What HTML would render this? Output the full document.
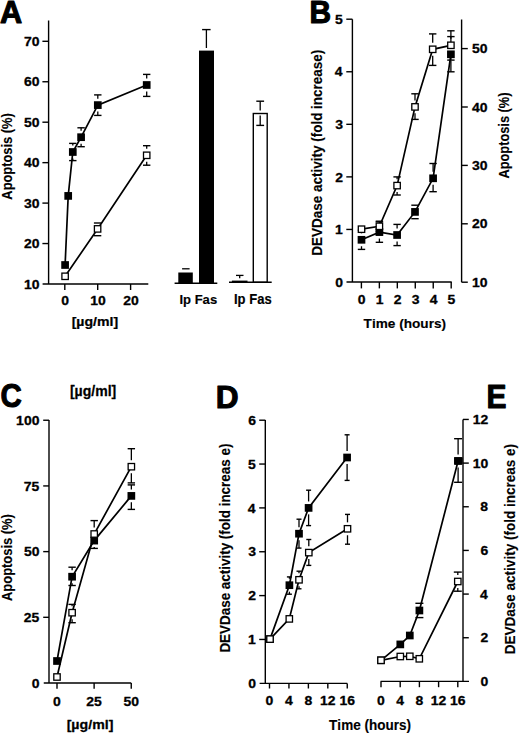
<!DOCTYPE html>
<html><head><meta charset="utf-8"><style>
html,body{margin:0;padding:0;background:#fff;}
body{width:520px;height:735px;overflow:hidden;}
svg{display:block;}
text{font-family:"Liberation Sans",sans-serif;font-weight:bold;font-kerning:none;fill:#000;}
</style></head><body>
<svg width="520" height="735" viewBox="0 0 520 735">
<rect width="520" height="735" fill="#fff"/>
<g stroke="#000" stroke-linecap="butt" fill="none">
</g>
<g stroke="#000" fill="#000">
<text transform="translate(0.09,23.45) scale(0.9871,1)" font-size="31.11" stroke="#000" stroke-width="1.1" stroke-linejoin="round">A</text>
<line x1="48.60" y1="20.60" x2="48.60" y2="284.00" stroke-width="1.4"/>
<line x1="42.60" y1="284.00" x2="148.30" y2="284.00" stroke-width="1.4"/>
<line x1="42.40" y1="243.55" x2="48.60" y2="243.55" stroke-width="1.4"/>
<line x1="42.40" y1="203.10" x2="48.60" y2="203.10" stroke-width="1.4"/>
<line x1="42.40" y1="162.65" x2="48.60" y2="162.65" stroke-width="1.4"/>
<line x1="42.40" y1="122.20" x2="48.60" y2="122.20" stroke-width="1.4"/>
<line x1="42.40" y1="81.75" x2="48.60" y2="81.75" stroke-width="1.4"/>
<line x1="42.40" y1="41.30" x2="48.60" y2="41.30" stroke-width="1.4"/>
<text transform="translate(23.89,288.65) scale(1.03,1)" font-size="13.56" stroke="#000" stroke-width="0.3" stroke-linejoin="round">10</text>
<text transform="translate(23.89,248.20) scale(1.03,1)" font-size="13.56" stroke="#000" stroke-width="0.3" stroke-linejoin="round">20</text>
<text transform="translate(23.89,207.75) scale(1.03,1)" font-size="13.56" stroke="#000" stroke-width="0.3" stroke-linejoin="round">30</text>
<text transform="translate(23.89,167.30) scale(1.03,1)" font-size="13.56" stroke="#000" stroke-width="0.3" stroke-linejoin="round">40</text>
<text transform="translate(23.89,126.85) scale(1.03,1)" font-size="13.56" stroke="#000" stroke-width="0.3" stroke-linejoin="round">50</text>
<text transform="translate(23.89,86.40) scale(1.03,1)" font-size="13.56" stroke="#000" stroke-width="0.3" stroke-linejoin="round">60</text>
<text transform="translate(23.89,45.95) scale(1.03,1)" font-size="13.56" stroke="#000" stroke-width="0.3" stroke-linejoin="round">70</text>
<line x1="64.80" y1="284.00" x2="64.80" y2="290.00" stroke-width="1.4"/>
<text transform="translate(61.32,305.12) scale(1.03,1)" font-size="13.56" stroke="#000" stroke-width="0.3" stroke-linejoin="round">0</text>
<line x1="97.70" y1="284.00" x2="97.70" y2="290.00" stroke-width="1.4"/>
<text transform="translate(90.33,305.12) scale(1.03,1)" font-size="13.56" stroke="#000" stroke-width="0.3" stroke-linejoin="round">10</text>
<line x1="130.60" y1="284.00" x2="130.60" y2="290.00" stroke-width="1.4"/>
<text transform="translate(123.23,305.12) scale(1.03,1)" font-size="13.56" stroke="#000" stroke-width="0.3" stroke-linejoin="round">20</text>
<text transform="translate(71.63,326.29) scale(1.0365,1)" font-size="13.61" stroke="#000" stroke-width="0.25" stroke-linejoin="round">[µg/ml]</text>
<text transform="translate(11.53,199.65) rotate(-90) scale(0.8990,1)" font-size="14.32" stroke="#000" stroke-width="0.15" stroke-linejoin="round">Apoptosis (%)</text>
<polyline points="65.10,276.30 97.60,228.90 146.70,155.30" fill="none" stroke-width="1.7"/>
<polyline points="65.10,265.00 68.20,195.90 72.80,152.00 81.10,137.20 97.80,105.10 146.70,85.00" fill="none" stroke-width="1.7"/>
<line x1="93.90" y1="223.00" x2="101.30" y2="223.00" stroke-width="1.4"/>
<line x1="93.90" y1="235.70" x2="101.30" y2="235.70" stroke-width="1.4"/>
<line x1="97.60" y1="235.35" x2="97.60" y2="235.70" stroke-width="1.3"/>
<line x1="143.00" y1="145.70" x2="150.40" y2="145.70" stroke-width="1.4"/>
<line x1="146.70" y1="145.70" x2="146.70" y2="148.85" stroke-width="1.3"/>
<line x1="143.00" y1="165.20" x2="150.40" y2="165.20" stroke-width="1.4"/>
<line x1="146.70" y1="161.75" x2="146.70" y2="165.20" stroke-width="1.3"/>
<line x1="69.10" y1="143.40" x2="76.50" y2="143.40" stroke-width="1.4"/>
<line x1="72.80" y1="143.40" x2="72.80" y2="145.55" stroke-width="1.3"/>
<line x1="69.10" y1="160.60" x2="76.50" y2="160.60" stroke-width="1.4"/>
<line x1="72.80" y1="158.45" x2="72.80" y2="160.60" stroke-width="1.3"/>
<line x1="77.40" y1="127.80" x2="84.80" y2="127.80" stroke-width="1.4"/>
<line x1="81.10" y1="127.80" x2="81.10" y2="130.75" stroke-width="1.3"/>
<line x1="77.40" y1="146.70" x2="84.80" y2="146.70" stroke-width="1.4"/>
<line x1="81.10" y1="143.65" x2="81.10" y2="146.70" stroke-width="1.3"/>
<line x1="94.10" y1="94.90" x2="101.50" y2="94.90" stroke-width="1.4"/>
<line x1="97.80" y1="94.90" x2="97.80" y2="98.65" stroke-width="1.3"/>
<line x1="94.10" y1="115.40" x2="101.50" y2="115.40" stroke-width="1.4"/>
<line x1="97.80" y1="111.55" x2="97.80" y2="115.40" stroke-width="1.3"/>
<line x1="143.00" y1="74.40" x2="150.40" y2="74.40" stroke-width="1.4"/>
<line x1="146.70" y1="74.40" x2="146.70" y2="78.55" stroke-width="1.3"/>
<line x1="143.00" y1="96.40" x2="150.40" y2="96.40" stroke-width="1.4"/>
<line x1="146.70" y1="91.45" x2="146.70" y2="96.40" stroke-width="1.3"/>
<rect x="61.25" y="261.15" width="7.7" height="7.7" fill="#000" stroke="none"/>
<rect x="64.35" y="192.05" width="7.7" height="7.7" fill="#000" stroke="none"/>
<rect x="68.95" y="148.15" width="7.7" height="7.7" fill="#000" stroke="none"/>
<rect x="77.25" y="133.35" width="7.7" height="7.7" fill="#000" stroke="none"/>
<rect x="93.95" y="101.25" width="7.7" height="7.7" fill="#000" stroke="none"/>
<rect x="142.85" y="81.15" width="7.7" height="7.7" fill="#000" stroke="none"/>
<rect x="61.90" y="273.10" width="6.40" height="6.40" fill="#fff" stroke-width="1.3"/>
<rect x="94.40" y="225.70" width="6.40" height="6.40" fill="#fff" stroke-width="1.3"/>
<rect x="143.50" y="152.10" width="6.40" height="6.40" fill="#fff" stroke-width="1.3"/>
<line x1="174.60" y1="283.20" x2="217.30" y2="283.20" stroke-width="1.5"/>
<rect x="178.3" y="272.5" width="14.5" height="10.7" fill="#000" stroke="none"/>
<line x1="182.10" y1="268.80" x2="189.60" y2="268.80" stroke-width="1.3"/>
<rect x="199.0" y="50.6" width="15.0" height="232.6" fill="#000" stroke="none"/>
<line x1="206.40" y1="29.60" x2="206.40" y2="48.00" stroke-width="1.3"/>
<line x1="202.10" y1="29.60" x2="210.60" y2="29.60" stroke-width="1.4"/>
<text transform="translate(179.40,304.12) scale(0.9719,1)" font-size="13.44" stroke="#000" stroke-width="0.15" stroke-linejoin="round">Ip Fas</text>
<line x1="229.00" y1="282.30" x2="271.70" y2="282.30" stroke-width="1.5"/>
<rect x="231.9" y="280.6" width="15.6" height="2.0" fill="#000" stroke="none"/>
<line x1="239.70" y1="275.40" x2="239.70" y2="278.20" stroke-width="1.3"/>
<line x1="236.00" y1="275.40" x2="243.50" y2="275.40" stroke-width="1.3"/>
<rect x="253.3" y="113.5" width="13.9" height="168.8" fill="none" stroke-width="1.4"/>
<line x1="260.20" y1="101.20" x2="260.20" y2="110.60" stroke-width="1.3"/>
<line x1="260.20" y1="115.60" x2="260.20" y2="125.40" stroke-width="1.3"/>
<line x1="256.30" y1="101.20" x2="264.10" y2="101.20" stroke-width="1.4"/>
<line x1="256.30" y1="125.40" x2="264.10" y2="125.40" stroke-width="1.4"/>
<text transform="translate(234.00,303.93) scale(0.9487,1)" font-size="13.74" stroke="#000" stroke-width="0.15" stroke-linejoin="round">Ip Fas</text>
<text transform="translate(309.55,23.45) scale(0.9594,1)" font-size="31.11" stroke="#000" stroke-width="1.1" stroke-linejoin="round">B</text>
<line x1="352.40" y1="19.20" x2="352.40" y2="282.00" stroke-width="1.4"/>
<line x1="346.50" y1="282.00" x2="451.70" y2="282.00" stroke-width="1.4"/>
<line x1="346.30" y1="229.44" x2="352.40" y2="229.44" stroke-width="1.4"/>
<line x1="346.30" y1="176.88" x2="352.40" y2="176.88" stroke-width="1.4"/>
<line x1="346.30" y1="124.32" x2="352.40" y2="124.32" stroke-width="1.4"/>
<line x1="346.30" y1="71.76" x2="352.40" y2="71.76" stroke-width="1.4"/>
<line x1="346.30" y1="19.20" x2="352.40" y2="19.20" stroke-width="1.4"/>
<text transform="translate(335.26,286.65) scale(1.03,1)" font-size="13.56" stroke="#000" stroke-width="0.3" stroke-linejoin="round">0</text>
<text transform="translate(335.07,234.09) scale(1.03,1)" font-size="13.56" stroke="#000" stroke-width="0.3" stroke-linejoin="round">1</text>
<text transform="translate(335.24,181.53) scale(1.03,1)" font-size="13.56" stroke="#000" stroke-width="0.3" stroke-linejoin="round">2</text>
<text transform="translate(335.19,128.97) scale(1.03,1)" font-size="13.56" stroke="#000" stroke-width="0.3" stroke-linejoin="round">3</text>
<text transform="translate(334.76,76.41) scale(1.03,1)" font-size="13.56" stroke="#000" stroke-width="0.3" stroke-linejoin="round">4</text>
<text transform="translate(335.07,23.85) scale(1.03,1)" font-size="13.56" stroke="#000" stroke-width="0.3" stroke-linejoin="round">5</text>
<line x1="361.40" y1="282.00" x2="361.40" y2="288.40" stroke-width="1.4"/>
<text transform="translate(357.82,303.62) scale(1.03,1)" font-size="13.56" stroke="#000" stroke-width="0.3" stroke-linejoin="round">0</text>
<line x1="379.36" y1="282.00" x2="379.36" y2="288.40" stroke-width="1.4"/>
<text transform="translate(375.78,303.62) scale(1.03,1)" font-size="13.56" stroke="#000" stroke-width="0.3" stroke-linejoin="round">1</text>
<line x1="397.32" y1="282.00" x2="397.32" y2="288.40" stroke-width="1.4"/>
<text transform="translate(393.74,303.62) scale(1.03,1)" font-size="13.56" stroke="#000" stroke-width="0.3" stroke-linejoin="round">2</text>
<line x1="415.28" y1="282.00" x2="415.28" y2="288.40" stroke-width="1.4"/>
<text transform="translate(411.70,303.62) scale(1.03,1)" font-size="13.56" stroke="#000" stroke-width="0.3" stroke-linejoin="round">3</text>
<line x1="433.24" y1="282.00" x2="433.24" y2="288.40" stroke-width="1.4"/>
<text transform="translate(429.66,303.62) scale(1.03,1)" font-size="13.56" stroke="#000" stroke-width="0.3" stroke-linejoin="round">4</text>
<line x1="451.20" y1="282.00" x2="451.20" y2="288.40" stroke-width="1.4"/>
<text transform="translate(447.62,303.62) scale(1.03,1)" font-size="13.56" stroke="#000" stroke-width="0.3" stroke-linejoin="round">5</text>
<text transform="translate(363.62,328.32) scale(1.0022,1)" font-size="13.59" stroke="#000" stroke-width="0.15" stroke-linejoin="round">Time (hours)</text>
<line x1="461.60" y1="19.50" x2="461.60" y2="282.20" stroke-width="1.4"/>
<line x1="461.60" y1="282.20" x2="467.80" y2="282.20" stroke-width="1.4"/>
<text transform="translate(472.09,286.85) scale(1.03,1)" font-size="13.56" stroke="#000" stroke-width="0.3" stroke-linejoin="round">10</text>
<line x1="461.60" y1="223.80" x2="467.80" y2="223.80" stroke-width="1.4"/>
<text transform="translate(472.09,228.45) scale(1.03,1)" font-size="13.56" stroke="#000" stroke-width="0.3" stroke-linejoin="round">20</text>
<line x1="461.60" y1="165.40" x2="467.80" y2="165.40" stroke-width="1.4"/>
<text transform="translate(472.09,170.05) scale(1.03,1)" font-size="13.56" stroke="#000" stroke-width="0.3" stroke-linejoin="round">30</text>
<line x1="461.60" y1="107.00" x2="467.80" y2="107.00" stroke-width="1.4"/>
<text transform="translate(472.09,111.65) scale(1.03,1)" font-size="13.56" stroke="#000" stroke-width="0.3" stroke-linejoin="round">40</text>
<line x1="461.60" y1="48.60" x2="467.80" y2="48.60" stroke-width="1.4"/>
<text transform="translate(472.09,53.25) scale(1.03,1)" font-size="13.56" stroke="#000" stroke-width="0.3" stroke-linejoin="round">50</text>
<text transform="translate(509.43,178.54) rotate(-90) scale(0.8858,1)" font-size="14.46" stroke="#000" stroke-width="0.15" stroke-linejoin="round">Apoptosis (%)</text>
<text transform="translate(321.93,255.73) rotate(-90) scale(0.9146,1)" font-size="14.75" stroke="#000" stroke-width="0.15" stroke-linejoin="round">DEVDase activity (fold increase)</text>
<polyline points="361.50,229.20 379.40,226.30 397.10,185.60 415.00,106.90 432.70,49.30 450.90,45.30" fill="none" stroke-width="1.7"/>
<polyline points="361.50,239.80 379.40,232.10 397.10,235.00 415.00,211.90 433.10,178.30 450.90,54.30" fill="none" stroke-width="1.7"/>
<line x1="375.70" y1="221.20" x2="383.10" y2="221.20" stroke-width="1.4"/>
<line x1="375.70" y1="231.40" x2="383.10" y2="231.40" stroke-width="1.4"/>
<line x1="393.40" y1="176.90" x2="400.80" y2="176.90" stroke-width="1.4"/>
<line x1="397.10" y1="176.90" x2="397.10" y2="179.15" stroke-width="1.3"/>
<line x1="393.40" y1="195.00" x2="400.80" y2="195.00" stroke-width="1.4"/>
<line x1="397.10" y1="192.05" x2="397.10" y2="195.00" stroke-width="1.3"/>
<line x1="411.30" y1="93.80" x2="418.70" y2="93.80" stroke-width="1.4"/>
<line x1="415.00" y1="93.80" x2="415.00" y2="100.45" stroke-width="1.3"/>
<line x1="411.30" y1="119.40" x2="418.70" y2="119.40" stroke-width="1.4"/>
<line x1="415.00" y1="113.35" x2="415.00" y2="119.40" stroke-width="1.3"/>
<line x1="429.00" y1="33.90" x2="436.40" y2="33.90" stroke-width="1.4"/>
<line x1="432.70" y1="33.90" x2="432.70" y2="42.85" stroke-width="1.3"/>
<line x1="429.00" y1="65.40" x2="436.40" y2="65.40" stroke-width="1.4"/>
<line x1="432.70" y1="55.75" x2="432.70" y2="65.40" stroke-width="1.3"/>
<line x1="447.20" y1="30.80" x2="454.60" y2="30.80" stroke-width="1.4"/>
<line x1="450.90" y1="30.80" x2="450.90" y2="38.85" stroke-width="1.3"/>
<line x1="447.20" y1="60.10" x2="454.60" y2="60.10" stroke-width="1.4"/>
<line x1="450.90" y1="51.75" x2="450.90" y2="60.10" stroke-width="1.3"/>
<line x1="357.80" y1="230.20" x2="365.20" y2="230.20" stroke-width="1.4"/>
<line x1="361.50" y1="230.20" x2="361.50" y2="233.35" stroke-width="1.3"/>
<line x1="357.80" y1="249.40" x2="365.20" y2="249.40" stroke-width="1.4"/>
<line x1="361.50" y1="246.25" x2="361.50" y2="249.40" stroke-width="1.3"/>
<line x1="375.70" y1="221.90" x2="383.10" y2="221.90" stroke-width="1.4"/>
<line x1="379.40" y1="221.90" x2="379.40" y2="225.65" stroke-width="1.3"/>
<line x1="375.70" y1="242.30" x2="383.10" y2="242.30" stroke-width="1.4"/>
<line x1="379.40" y1="238.55" x2="379.40" y2="242.30" stroke-width="1.3"/>
<line x1="393.40" y1="224.40" x2="400.80" y2="224.40" stroke-width="1.4"/>
<line x1="397.10" y1="224.40" x2="397.10" y2="228.55" stroke-width="1.3"/>
<line x1="393.40" y1="245.60" x2="400.80" y2="245.60" stroke-width="1.4"/>
<line x1="397.10" y1="241.45" x2="397.10" y2="245.60" stroke-width="1.3"/>
<line x1="411.30" y1="205.20" x2="418.70" y2="205.20" stroke-width="1.4"/>
<line x1="415.00" y1="205.20" x2="415.00" y2="205.45" stroke-width="1.3"/>
<line x1="411.30" y1="218.70" x2="418.70" y2="218.70" stroke-width="1.4"/>
<line x1="415.00" y1="218.35" x2="415.00" y2="218.70" stroke-width="1.3"/>
<line x1="429.40" y1="163.50" x2="436.80" y2="163.50" stroke-width="1.4"/>
<line x1="433.10" y1="163.50" x2="433.10" y2="171.85" stroke-width="1.3"/>
<line x1="429.40" y1="191.70" x2="436.80" y2="191.70" stroke-width="1.4"/>
<line x1="433.10" y1="184.75" x2="433.10" y2="191.70" stroke-width="1.3"/>
<line x1="447.20" y1="36.60" x2="454.60" y2="36.60" stroke-width="1.4"/>
<line x1="450.90" y1="36.60" x2="450.90" y2="47.85" stroke-width="1.3"/>
<line x1="447.20" y1="71.80" x2="454.60" y2="71.80" stroke-width="1.4"/>
<line x1="450.90" y1="60.75" x2="450.90" y2="71.80" stroke-width="1.3"/>
<rect x="357.65" y="235.95" width="7.7" height="7.7" fill="#000" stroke="none"/>
<rect x="375.55" y="228.25" width="7.7" height="7.7" fill="#000" stroke="none"/>
<rect x="393.25" y="231.15" width="7.7" height="7.7" fill="#000" stroke="none"/>
<rect x="411.15" y="208.05" width="7.7" height="7.7" fill="#000" stroke="none"/>
<rect x="429.25" y="174.45" width="7.7" height="7.7" fill="#000" stroke="none"/>
<rect x="447.05" y="50.45" width="7.7" height="7.7" fill="#000" stroke="none"/>
<rect x="358.30" y="226.00" width="6.40" height="6.40" fill="#fff" stroke-width="1.3"/>
<rect x="376.20" y="223.10" width="6.40" height="6.40" fill="#fff" stroke-width="1.3"/>
<rect x="393.90" y="182.40" width="6.40" height="6.40" fill="#fff" stroke-width="1.3"/>
<rect x="411.80" y="103.70" width="6.40" height="6.40" fill="#fff" stroke-width="1.3"/>
<rect x="429.50" y="46.10" width="6.40" height="6.40" fill="#fff" stroke-width="1.3"/>
<rect x="447.70" y="42.10" width="6.40" height="6.40" fill="#fff" stroke-width="1.3"/>
<text transform="translate(0.44,406.82) scale(0.8781,1)" font-size="33.62" stroke="#000" stroke-width="1.1" stroke-linejoin="round">C</text>
<text transform="translate(69.93,395.94) scale(1.0182,1)" font-size="13.83" stroke="#000" stroke-width="0.25" stroke-linejoin="round">[µg/ml]</text>
<line x1="49.00" y1="420.10" x2="49.00" y2="683.00" stroke-width="1.4"/>
<line x1="43.75" y1="683.00" x2="131.25" y2="683.00" stroke-width="1.4"/>
<line x1="43.20" y1="617.31" x2="49.00" y2="617.31" stroke-width="1.4"/>
<line x1="43.20" y1="551.62" x2="49.00" y2="551.62" stroke-width="1.4"/>
<line x1="43.20" y1="485.93" x2="49.00" y2="485.93" stroke-width="1.4"/>
<line x1="43.20" y1="420.24" x2="49.00" y2="420.24" stroke-width="1.4"/>
<text transform="translate(31.66,687.65) scale(1.03,1)" font-size="13.56" stroke="#000" stroke-width="0.3" stroke-linejoin="round">0</text>
<text transform="translate(23.70,621.96) scale(1.03,1)" font-size="13.56" stroke="#000" stroke-width="0.3" stroke-linejoin="round">25</text>
<text transform="translate(23.89,556.27) scale(1.03,1)" font-size="13.56" stroke="#000" stroke-width="0.3" stroke-linejoin="round">50</text>
<text transform="translate(23.70,490.58) scale(1.03,1)" font-size="13.56" stroke="#000" stroke-width="0.3" stroke-linejoin="round">75</text>
<text transform="translate(16.12,424.89) scale(1.03,1)" font-size="13.56" stroke="#000" stroke-width="0.3" stroke-linejoin="round">100</text>
<line x1="57.00" y1="683.00" x2="57.00" y2="688.75" stroke-width="1.4"/>
<text transform="translate(53.12,705.62) scale(1.03,1)" font-size="13.56" stroke="#000" stroke-width="0.3" stroke-linejoin="round">0</text>
<line x1="94.12" y1="683.00" x2="94.12" y2="688.75" stroke-width="1.4"/>
<text transform="translate(86.36,705.62) scale(1.03,1)" font-size="13.56" stroke="#000" stroke-width="0.3" stroke-linejoin="round">25</text>
<line x1="131.25" y1="683.00" x2="131.25" y2="688.75" stroke-width="1.4"/>
<text transform="translate(123.48,705.62) scale(1.03,1)" font-size="13.56" stroke="#000" stroke-width="0.3" stroke-linejoin="round">50</text>
<text transform="translate(66.63,729.36) scale(1.0685,1)" font-size="13.29" stroke="#000" stroke-width="0.25" stroke-linejoin="round">[µg/ml]</text>
<text transform="translate(12.03,600.95) rotate(-90) scale(0.9114,1)" font-size="14.17" stroke="#000" stroke-width="0.15" stroke-linejoin="round">Apoptosis (%)</text>
<polyline points="57.00,677.00 72.10,612.70 94.20,534.00 131.35,466.70" fill="none" stroke-width="1.7"/>
<polyline points="57.00,661.00 72.10,576.70 94.20,540.60 131.35,495.90" fill="none" stroke-width="1.7"/>
<line x1="68.40" y1="604.40" x2="75.80" y2="604.40" stroke-width="1.4"/>
<line x1="72.10" y1="604.40" x2="72.10" y2="606.25" stroke-width="1.3"/>
<line x1="68.40" y1="622.70" x2="75.80" y2="622.70" stroke-width="1.4"/>
<line x1="72.10" y1="619.15" x2="72.10" y2="622.70" stroke-width="1.3"/>
<line x1="90.50" y1="520.60" x2="97.90" y2="520.60" stroke-width="1.4"/>
<line x1="94.20" y1="520.60" x2="94.20" y2="527.55" stroke-width="1.3"/>
<line x1="127.65" y1="448.70" x2="135.05" y2="448.70" stroke-width="1.4"/>
<line x1="131.35" y1="448.70" x2="131.35" y2="460.25" stroke-width="1.3"/>
<line x1="127.65" y1="482.90" x2="135.05" y2="482.90" stroke-width="1.4"/>
<line x1="131.35" y1="473.15" x2="131.35" y2="482.90" stroke-width="1.3"/>
<line x1="68.40" y1="567.20" x2="75.80" y2="567.20" stroke-width="1.4"/>
<line x1="72.10" y1="567.20" x2="72.10" y2="570.25" stroke-width="1.3"/>
<line x1="68.40" y1="585.50" x2="75.80" y2="585.50" stroke-width="1.4"/>
<line x1="72.10" y1="583.15" x2="72.10" y2="585.50" stroke-width="1.3"/>
<line x1="90.50" y1="548.40" x2="97.90" y2="548.40" stroke-width="1.4"/>
<line x1="94.20" y1="547.05" x2="94.20" y2="548.40" stroke-width="1.3"/>
<line x1="127.65" y1="484.90" x2="135.05" y2="484.90" stroke-width="1.4"/>
<line x1="131.35" y1="484.90" x2="131.35" y2="489.45" stroke-width="1.3"/>
<line x1="127.65" y1="509.40" x2="135.05" y2="509.40" stroke-width="1.4"/>
<line x1="131.35" y1="502.35" x2="131.35" y2="509.40" stroke-width="1.3"/>
<rect x="53.15" y="657.15" width="7.7" height="7.7" fill="#000" stroke="none"/>
<rect x="68.25" y="572.85" width="7.7" height="7.7" fill="#000" stroke="none"/>
<rect x="90.35" y="536.75" width="7.7" height="7.7" fill="#000" stroke="none"/>
<rect x="127.50" y="492.05" width="7.7" height="7.7" fill="#000" stroke="none"/>
<rect x="53.80" y="673.80" width="6.40" height="6.40" fill="#fff" stroke-width="1.3"/>
<rect x="68.90" y="609.50" width="6.40" height="6.40" fill="#fff" stroke-width="1.3"/>
<rect x="91.00" y="530.80" width="6.40" height="6.40" fill="#fff" stroke-width="1.3"/>
<rect x="128.15" y="463.50" width="6.40" height="6.40" fill="#fff" stroke-width="1.3"/>
<text transform="translate(215.63,407.65) scale(0.9803,1)" font-size="32.27" stroke="#000" stroke-width="1.1" stroke-linejoin="round">D</text>
<line x1="265.30" y1="420.00" x2="265.30" y2="683.40" stroke-width="1.4"/>
<line x1="259.60" y1="683.40" x2="347.30" y2="683.40" stroke-width="1.4"/>
<line x1="259.20" y1="639.45" x2="265.30" y2="639.45" stroke-width="1.4"/>
<line x1="259.20" y1="595.60" x2="265.30" y2="595.60" stroke-width="1.4"/>
<line x1="259.20" y1="551.75" x2="265.30" y2="551.75" stroke-width="1.4"/>
<line x1="259.20" y1="507.90" x2="265.30" y2="507.90" stroke-width="1.4"/>
<line x1="259.20" y1="464.05" x2="265.30" y2="464.05" stroke-width="1.4"/>
<line x1="259.20" y1="420.20" x2="265.30" y2="420.20" stroke-width="1.4"/>
<text transform="translate(248.26,687.95) scale(1.03,1)" font-size="13.56" stroke="#000" stroke-width="0.3" stroke-linejoin="round">0</text>
<text transform="translate(248.07,644.10) scale(1.03,1)" font-size="13.56" stroke="#000" stroke-width="0.3" stroke-linejoin="round">1</text>
<text transform="translate(248.24,600.25) scale(1.03,1)" font-size="13.56" stroke="#000" stroke-width="0.3" stroke-linejoin="round">2</text>
<text transform="translate(248.19,556.40) scale(1.03,1)" font-size="13.56" stroke="#000" stroke-width="0.3" stroke-linejoin="round">3</text>
<text transform="translate(247.76,512.55) scale(1.03,1)" font-size="13.56" stroke="#000" stroke-width="0.3" stroke-linejoin="round">4</text>
<text transform="translate(248.07,468.70) scale(1.03,1)" font-size="13.56" stroke="#000" stroke-width="0.3" stroke-linejoin="round">5</text>
<text transform="translate(248.19,424.85) scale(1.03,1)" font-size="13.56" stroke="#000" stroke-width="0.3" stroke-linejoin="round">6</text>
<line x1="269.50" y1="683.40" x2="269.50" y2="688.50" stroke-width="1.4"/>
<text transform="translate(265.62,705.22) scale(1.03,1)" font-size="13.56" stroke="#000" stroke-width="0.3" stroke-linejoin="round">0</text>
<line x1="288.94" y1="683.40" x2="288.94" y2="688.50" stroke-width="1.4"/>
<text transform="translate(285.06,705.22) scale(1.03,1)" font-size="13.56" stroke="#000" stroke-width="0.3" stroke-linejoin="round">4</text>
<line x1="308.38" y1="683.40" x2="308.38" y2="688.50" stroke-width="1.4"/>
<text transform="translate(304.50,705.22) scale(1.03,1)" font-size="13.56" stroke="#000" stroke-width="0.3" stroke-linejoin="round">8</text>
<line x1="327.82" y1="683.40" x2="327.82" y2="688.50" stroke-width="1.4"/>
<text transform="translate(320.05,705.22) scale(1.03,1)" font-size="13.56" stroke="#000" stroke-width="0.3" stroke-linejoin="round">12</text>
<line x1="347.26" y1="683.40" x2="347.26" y2="688.50" stroke-width="1.4"/>
<text transform="translate(339.49,705.22) scale(1.03,1)" font-size="13.56" stroke="#000" stroke-width="0.3" stroke-linejoin="round">16</text>
<text transform="translate(329.12,729.52) scale(0.9256,1)" font-size="14.61" stroke="#000" stroke-width="0.15" stroke-linejoin="round">Time (hours)</text>
<text transform="translate(230.43,652.62) rotate(-90) scale(0.8941,1)" font-size="15.04" stroke="#000" stroke-width="0.15" stroke-linejoin="round">DEVDase activity (fold increas e)</text>
<polyline points="270.00,639.10 289.30,618.90 299.00,579.80 308.80,552.60 347.50,528.80" fill="none" stroke-width="1.7"/>
<polyline points="270.00,639.10 289.40,585.20 299.00,533.70 308.60,507.90 347.10,457.50" fill="none" stroke-width="1.7"/>
<line x1="296.50" y1="571.20" x2="301.50" y2="571.20" stroke-width="1.4"/>
<line x1="299.00" y1="571.20" x2="299.00" y2="573.35" stroke-width="1.3"/>
<line x1="296.50" y1="588.80" x2="301.50" y2="588.80" stroke-width="1.4"/>
<line x1="299.00" y1="586.25" x2="299.00" y2="588.80" stroke-width="1.3"/>
<line x1="306.30" y1="539.50" x2="311.30" y2="539.50" stroke-width="1.4"/>
<line x1="308.80" y1="539.50" x2="308.80" y2="546.15" stroke-width="1.3"/>
<line x1="306.30" y1="565.40" x2="311.30" y2="565.40" stroke-width="1.4"/>
<line x1="308.80" y1="559.05" x2="308.80" y2="565.40" stroke-width="1.3"/>
<line x1="345.00" y1="514.40" x2="350.00" y2="514.40" stroke-width="1.4"/>
<line x1="347.50" y1="514.40" x2="347.50" y2="522.35" stroke-width="1.3"/>
<line x1="345.00" y1="544.20" x2="350.00" y2="544.20" stroke-width="1.4"/>
<line x1="347.50" y1="535.25" x2="347.50" y2="544.20" stroke-width="1.3"/>
<line x1="286.90" y1="576.90" x2="291.90" y2="576.90" stroke-width="1.4"/>
<line x1="289.40" y1="576.90" x2="289.40" y2="578.75" stroke-width="1.3"/>
<line x1="286.90" y1="594.20" x2="291.90" y2="594.20" stroke-width="1.4"/>
<line x1="289.40" y1="591.65" x2="289.40" y2="594.20" stroke-width="1.3"/>
<line x1="296.50" y1="519.20" x2="301.50" y2="519.20" stroke-width="1.4"/>
<line x1="299.00" y1="519.20" x2="299.00" y2="527.25" stroke-width="1.3"/>
<line x1="296.50" y1="548.10" x2="301.50" y2="548.10" stroke-width="1.4"/>
<line x1="299.00" y1="540.15" x2="299.00" y2="548.10" stroke-width="1.3"/>
<line x1="306.10" y1="490.20" x2="311.10" y2="490.20" stroke-width="1.4"/>
<line x1="308.60" y1="490.20" x2="308.60" y2="501.45" stroke-width="1.3"/>
<line x1="306.10" y1="525.60" x2="311.10" y2="525.60" stroke-width="1.4"/>
<line x1="308.60" y1="514.35" x2="308.60" y2="525.60" stroke-width="1.3"/>
<line x1="344.60" y1="434.80" x2="349.60" y2="434.80" stroke-width="1.4"/>
<line x1="347.10" y1="434.80" x2="347.10" y2="451.05" stroke-width="1.3"/>
<line x1="344.60" y1="480.40" x2="349.60" y2="480.40" stroke-width="1.4"/>
<line x1="347.10" y1="463.95" x2="347.10" y2="480.40" stroke-width="1.3"/>
<rect x="266.15" y="635.25" width="7.7" height="7.7" fill="#000" stroke="none"/>
<rect x="285.55" y="581.35" width="7.7" height="7.7" fill="#000" stroke="none"/>
<rect x="295.15" y="529.85" width="7.7" height="7.7" fill="#000" stroke="none"/>
<rect x="304.75" y="504.05" width="7.7" height="7.7" fill="#000" stroke="none"/>
<rect x="343.25" y="453.65" width="7.7" height="7.7" fill="#000" stroke="none"/>
<rect x="266.80" y="635.90" width="6.40" height="6.40" fill="#fff" stroke-width="1.3"/>
<rect x="286.10" y="615.70" width="6.40" height="6.40" fill="#fff" stroke-width="1.3"/>
<rect x="295.80" y="576.60" width="6.40" height="6.40" fill="#fff" stroke-width="1.3"/>
<rect x="305.60" y="549.40" width="6.40" height="6.40" fill="#fff" stroke-width="1.3"/>
<rect x="344.30" y="525.60" width="6.40" height="6.40" fill="#fff" stroke-width="1.3"/>
<text transform="translate(486.55,407.85) scale(0.9036,1)" font-size="33.14" stroke="#000" stroke-width="1.1" stroke-linejoin="round">E</text>
<line x1="463.00" y1="419.40" x2="463.00" y2="681.40" stroke-width="1.4"/>
<line x1="380.60" y1="681.40" x2="469.00" y2="681.40" stroke-width="1.4"/>
<line x1="463.00" y1="637.74" x2="468.80" y2="637.74" stroke-width="1.4"/>
<line x1="463.00" y1="594.08" x2="468.80" y2="594.08" stroke-width="1.4"/>
<line x1="463.00" y1="550.42" x2="468.80" y2="550.42" stroke-width="1.4"/>
<line x1="463.00" y1="506.76" x2="468.80" y2="506.76" stroke-width="1.4"/>
<line x1="463.00" y1="463.10" x2="468.80" y2="463.10" stroke-width="1.4"/>
<line x1="463.00" y1="419.44" x2="468.80" y2="419.44" stroke-width="1.4"/>
<text transform="translate(480.46,686.05) scale(1.03,1)" font-size="13.56" stroke="#000" stroke-width="0.3" stroke-linejoin="round">0</text>
<text transform="translate(480.44,642.39) scale(1.03,1)" font-size="13.56" stroke="#000" stroke-width="0.3" stroke-linejoin="round">2</text>
<text transform="translate(479.96,598.73) scale(1.03,1)" font-size="13.56" stroke="#000" stroke-width="0.3" stroke-linejoin="round">4</text>
<text transform="translate(480.39,555.07) scale(1.03,1)" font-size="13.56" stroke="#000" stroke-width="0.3" stroke-linejoin="round">6</text>
<text transform="translate(480.31,511.41) scale(1.03,1)" font-size="13.56" stroke="#000" stroke-width="0.3" stroke-linejoin="round">8</text>
<text transform="translate(472.69,467.75) scale(1.03,1)" font-size="13.56" stroke="#000" stroke-width="0.3" stroke-linejoin="round">10</text>
<text transform="translate(472.67,424.09) scale(1.03,1)" font-size="13.56" stroke="#000" stroke-width="0.3" stroke-linejoin="round">12</text>
<line x1="381.00" y1="681.40" x2="381.00" y2="687.20" stroke-width="1.4"/>
<text transform="translate(377.12,704.62) scale(1.03,1)" font-size="13.56" stroke="#000" stroke-width="0.3" stroke-linejoin="round">0</text>
<line x1="400.20" y1="681.40" x2="400.20" y2="687.20" stroke-width="1.4"/>
<text transform="translate(396.32,704.62) scale(1.03,1)" font-size="13.56" stroke="#000" stroke-width="0.3" stroke-linejoin="round">4</text>
<line x1="419.40" y1="681.40" x2="419.40" y2="687.20" stroke-width="1.4"/>
<text transform="translate(415.52,704.62) scale(1.03,1)" font-size="13.56" stroke="#000" stroke-width="0.3" stroke-linejoin="round">8</text>
<line x1="438.60" y1="681.40" x2="438.60" y2="687.20" stroke-width="1.4"/>
<text transform="translate(430.83,704.62) scale(1.03,1)" font-size="13.56" stroke="#000" stroke-width="0.3" stroke-linejoin="round">12</text>
<line x1="457.80" y1="681.40" x2="457.80" y2="687.20" stroke-width="1.4"/>
<text transform="translate(450.03,704.62) scale(1.03,1)" font-size="13.56" stroke="#000" stroke-width="0.3" stroke-linejoin="round">16</text>
<text transform="translate(515.22,654.33) rotate(-90) scale(0.9216,1)" font-size="14.68" stroke="#000" stroke-width="0.15" stroke-linejoin="round">DEVDase activity (fold increas e)</text>
<polyline points="381.00,660.30 400.30,656.50 409.80,656.30 419.30,658.80 457.80,581.50" fill="none" stroke-width="1.7"/>
<polyline points="381.00,660.30 400.30,644.40 409.80,635.50 419.40,610.50 458.10,461.00" fill="none" stroke-width="1.7"/>
<line x1="453.80" y1="572.10" x2="461.80" y2="572.10" stroke-width="1.4"/>
<line x1="457.80" y1="572.10" x2="457.80" y2="575.05" stroke-width="1.3"/>
<line x1="453.80" y1="591.20" x2="461.80" y2="591.20" stroke-width="1.4"/>
<line x1="457.80" y1="587.95" x2="457.80" y2="591.20" stroke-width="1.3"/>
<line x1="415.40" y1="603.30" x2="423.40" y2="603.30" stroke-width="1.4"/>
<line x1="419.40" y1="603.30" x2="419.40" y2="604.05" stroke-width="1.3"/>
<line x1="415.40" y1="617.60" x2="423.40" y2="617.60" stroke-width="1.4"/>
<line x1="419.40" y1="616.95" x2="419.40" y2="617.60" stroke-width="1.3"/>
<line x1="454.10" y1="438.70" x2="462.10" y2="438.70" stroke-width="1.4"/>
<line x1="458.10" y1="438.70" x2="458.10" y2="454.55" stroke-width="1.3"/>
<line x1="454.10" y1="482.30" x2="462.10" y2="482.30" stroke-width="1.4"/>
<line x1="458.10" y1="467.45" x2="458.10" y2="482.30" stroke-width="1.3"/>
<rect x="377.15" y="656.45" width="7.7" height="7.7" fill="#000" stroke="none"/>
<rect x="396.45" y="640.55" width="7.7" height="7.7" fill="#000" stroke="none"/>
<rect x="405.95" y="631.65" width="7.7" height="7.7" fill="#000" stroke="none"/>
<rect x="415.55" y="606.65" width="7.7" height="7.7" fill="#000" stroke="none"/>
<rect x="454.25" y="457.15" width="7.7" height="7.7" fill="#000" stroke="none"/>
<rect x="377.80" y="657.10" width="6.40" height="6.40" fill="#fff" stroke-width="1.3"/>
<rect x="397.10" y="653.30" width="6.40" height="6.40" fill="#fff" stroke-width="1.3"/>
<rect x="406.60" y="653.10" width="6.40" height="6.40" fill="#fff" stroke-width="1.3"/>
<rect x="416.10" y="655.60" width="6.40" height="6.40" fill="#fff" stroke-width="1.3"/>
<rect x="454.60" y="578.30" width="6.40" height="6.40" fill="#fff" stroke-width="1.3"/>
<rect x="454.1" y="457.3" width="8.6" height="7.0" fill="#000" stroke="none"/>
</g>
</svg>
</body></html>
